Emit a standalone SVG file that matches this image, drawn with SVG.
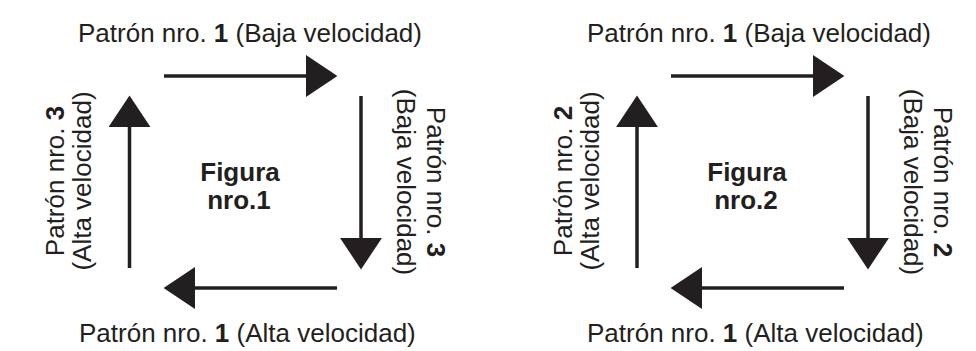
<svg xmlns="http://www.w3.org/2000/svg" width="976" height="351" viewBox="0 0 976 351">
<defs>
<style>
.t{font-family:"Liberation Sans",Arial,sans-serif;font-size:26px;fill:#231f20}
.b{font-weight:bold}
.ln{stroke:#231f20;stroke-width:3.5;fill:none}
</style>
<marker id="ah" markerUnits="userSpaceOnUse" markerWidth="32" markerHeight="42" viewBox="0 0 30 40" refX="2" refY="20" orient="auto">
<path d="M0,0 L30,20 L0,40 z" fill="#231f20"/>
</marker>
</defs>
<rect width="976" height="351" fill="#fff"/>
<g id="connectors">
<line class="ln" x1="164" y1="76" x2="308" y2="76" marker-end="url(#ah)"/>
<line class="ln" x1="361" y1="96" x2="361" y2="240" marker-end="url(#ah)"/>
<line class="ln" x1="337" y1="288" x2="193" y2="288" marker-end="url(#ah)"/>
<line class="ln" x1="129.5" y1="268" x2="129.5" y2="125" marker-end="url(#ah)"/>
<line class="ln" x1="671" y1="76" x2="815" y2="76" marker-end="url(#ah)"/>
<line class="ln" x1="868" y1="96" x2="868" y2="240" marker-end="url(#ah)"/>
<line class="ln" x1="844" y1="288" x2="700" y2="288" marker-end="url(#ah)"/>
<line class="ln" x1="637" y1="268" x2="637" y2="125" marker-end="url(#ah)"/>
</g>
<g id="fig1">
<g id="fig1-top"><text class="t" x="78" y="42">Patrón nro. <tspan class="b">1</tspan> (Baja velocidad)</text></g>
<g id="fig1-right"><text class="t" text-anchor="middle" transform="translate(427,182) rotate(90)"><tspan x="0" y="0">Patrón nro. <tspan class="b">3</tspan></tspan><tspan x="0" y="30">(Baja velocidad)</tspan></text></g>
<g id="fig1-bottom"><text class="t" x="79" y="342">Patrón nro. <tspan class="b">1</tspan> (Alta velocidad)</text></g>
<g id="fig1-left"><text class="t" text-anchor="middle" transform="translate(64,181) rotate(-90)"><tspan x="0" y="0">Patrón nro. <tspan class="b">3</tspan></tspan><tspan x="0" y="27">(Alta velocidad)</tspan></text></g>
<g id="fig1-center"><text class="t b" text-anchor="middle" x="240" y="181">Figura</text><text class="t b" text-anchor="middle" x="239" y="209">nro.1</text></g>
</g>
<g id="fig2">
<g id="fig2-top"><text class="t" x="587" y="42">Patrón nro. <tspan class="b">1</tspan> (Baja velocidad)</text></g>
<g id="fig2-right"><text class="t" text-anchor="middle" transform="translate(934,182) rotate(90)"><tspan x="0" y="0">Patrón nro. <tspan class="b">2</tspan></tspan><tspan x="0" y="30">(Baja velocidad)</tspan></text></g>
<g id="fig2-bottom"><text class="t" x="587" y="342">Patrón nro. <tspan class="b">1</tspan> (Alta velocidad)</text></g>
<g id="fig2-left"><text class="t" text-anchor="middle" transform="translate(572,181) rotate(-90)"><tspan x="0" y="0">Patrón nro. <tspan class="b">2</tspan></tspan><tspan x="0" y="27">(Alta velocidad)</tspan></text></g>
<g id="fig2-center"><text class="t b" text-anchor="middle" x="747" y="181">Figura</text><text class="t b" text-anchor="middle" x="746" y="209">nro.2</text></g>
</g>
</svg>
